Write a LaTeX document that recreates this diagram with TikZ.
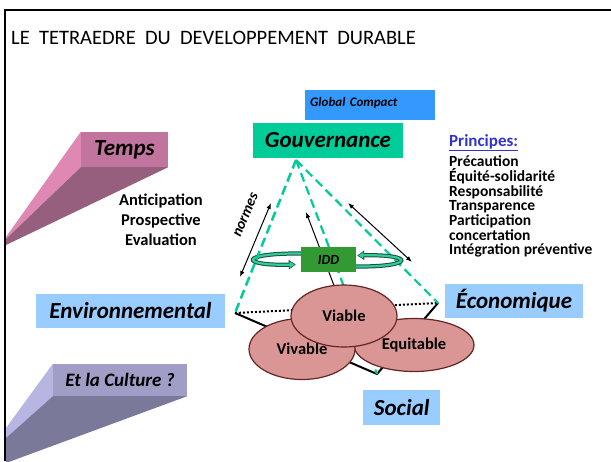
\documentclass[tikz,border=0pt]{standalone}
\usepackage{fontspec}
\setmainfont{Carlito}
\usetikzlibrary{shapes.geometric,arrows.meta,calc}
\definecolor{dimblue}{RGB}{153,204,255}
\definecolor{gcblue}{RGB}{51,153,255}
\definecolor{govgreen}{RGB}{0,204,153}
\definecolor{iddgreen}{RGB}{51,153,51}
\definecolor{ovalfill}{RGB}{217,150,148}
\definecolor{ovaledge}{RGB}{99,37,35}
\definecolor{princblue}{RGB}{51,51,204}
\definecolor{loopfill}{RGB}{51,204,153}
\definecolor{loopedge}{RGB}{25,80,65}
\definecolor{tempsfront}{RGB}{193,117,158}
\definecolor{tempslight}{RGB}{223,136,179}
\definecolor{tempsdark}{RGB}{151,95,126}
\definecolor{culfront}{RGB}{160,157,198}
\definecolor{cullight}{RGB}{183,182,226}
\definecolor{culdark}{RGB}{122,121,153}

\begin{document}
\begin{tikzpicture}[x=1pt,y=1pt,yscale=-1,
    dimbox/.style={fill=dimblue,inner sep=0pt,minimum height=34,minimum width=#1,
      font=\fontsize{23}{27}\selectfont\bfseries\itshape},
    oval/.style={ellipse,draw=ovaledge,fill=ovalfill,line width=1.2,inner sep=0pt,
      font=\fontsize{16.5}{19}\selectfont\bfseries},
    govline/.style={color=govgreen,line width=2.2,dash pattern=on 9pt off 5pt},
    link/.style={line width=1,{Latex[length=6pt,width=4.5pt]}-{Latex[length=6pt,width=4.5pt]}},
    loopout/.style={line width=4.2,color=loopedge,-{Triangle[length=7pt,width=9pt]}},
    loopin/.style={line width=2.2,color=loopfill,shorten >=1.2pt,-{Triangle[length=5pt,width=6.4pt]}},
  ]
  \useasboundingbox (0,0) rectangle (611,461);

  % title
  \node[anchor=west,inner sep=0pt,font=\fontsize{20.5}{24}\selectfont] (title) at (11,37.5)
    {LE\ \ TETRAEDRE\ \ DU\ \ DEVELOPPEMENT\ \ DURABLE};

  % Temps block
  \node[fill=tempsfront,minimum width=87,minimum height=35,inner sep=0pt,
    font=\fontsize{23}{27}\selectfont\bfseries\itshape] (temps) at (124.5,149.5) {Temps};
  \fill[tempslight] (temps.north west) -- (6,237) -- (6,239) -- (temps.south west) -- cycle;
  \fill[tempsdark] (temps.south west) -- (temps.south east) -- (6,245) -- (6,239) -- cycle;
  \node[align=center,anchor=north,inner sep=0pt,font=\fontsize{16.5}{20}\selectfont\bfseries] (tempstext) at (161,193.5)
    {Anticipation\\Prospective\\Evaluation};

  % Et la Culture block
  \node[fill=culfront,minimum width=134,minimum height=32,inner sep=0pt,
    font=\fontsize{19}{23}\selectfont\bfseries\itshape] (culture) at (120,380) {Et la Culture ?};
  \fill[cullight] (culture.north west) -- (6,428) -- (6,438) -- (culture.south west) -- cycle;
  \fill[culdark] (culture.south west) -- (culture.south east) -- (6,463) -- (6,438) -- cycle;

  % frame
  \draw[line width=2] (5,461) -- (5,10) -- (611,10);

  % Global Compact
  \node[fill=gcblue,anchor=north west,inner xsep=5,inner ysep=0pt,text width=120,align=left,
    text height=16,text depth=14,font=\fontsize{13}{15}\selectfont\bfseries\itshape] (gc) at (305,90) {Global Compact};

  % tetrahedron
  \coordinate (top) at (296,160);
  \coordinate (env) at (235,313);
  \coordinate (eco) at (438,303);
  \coordinate (soc) at (377,374);
  \draw[line width=2,dash pattern=on 2pt off 2pt] (env) -- (eco);
  \draw[line width=2] (env) -- (soc) -- (eco);
  \draw[govline] (top) -- (env) (top) -- (soc) (top) -- (eco);

  % arrows
  \coordinate (n1) at (240,277);
  \coordinate (n2) at (271,203);
  \draw[link] (n1) -- (n2);
  \node[rotate=67,inner sep=0pt,font=\fontsize{15}{18}\selectfont\bfseries\itshape] (normes) at (246,215) {normes};
  \coordinate (m1) at (338,296);
  \coordinate (m2) at (306,212);
  \draw[line width=1,-{Latex[length=6pt,width=4.5pt]}] (m1) -- (m2);
  \coordinate (r1) at (348,203);
  \coordinate (r2) at (412,262);
  \draw[link] (r1) -- (r2);

  % IDD
  \node[fill=iddgreen,minimum width=55,minimum height=25,inner sep=0pt,
    font=\fontsize{14}{16}\selectfont\bfseries\itshape] (idd) at (328.5,259.5) {IDD};
  \draw[loopout] ($(idd.west)+(0,-6)$) .. controls (238,253) and (240,266) .. ($(idd.west)+(-5,5)$);
  \draw[loopin] ($(idd.west)+(0,-6)$) .. controls (238,253) and (240,266) .. ($(idd.west)+(-5,5)$);
  \draw[loopout] ($(idd.east)+(0,7)$) .. controls (416,267) and (414,254) .. ($(idd.east)+(1,-4)$);
  \draw[loopin] ($(idd.east)+(0,7)$) .. controls (416,267) and (414,254) .. ($(idd.east)+(1,-4)$);
  \draw[govline] (top) -- (env);

  % ovals
  \node[oval,minimum width=120,minimum height=53] (equitable) at (414,345) {Equitable};
  \node[oval,minimum width=106,minimum height=61] (vivable) at (302,349) {Vivable};
  \node[oval,minimum width=106,minimum height=62] (viable) at (344,316) {Viable};

  % pillars
  \node[fill=govgreen,inner sep=0pt,minimum width=150,minimum height=35,
    font=\fontsize{23}{27}\selectfont\bfseries\itshape] (gouv) at (328,140.5) {Gouvernance};
  \node[dimbox=189] (envir) at (130.5,310.5) {Environnemental};
  \node[dimbox=138] (econ) at (514,300.5) {Économique};
  \node[dimbox=77,minimum height=35] (social) at (401.7,407.5) {Social};

  % principes
  \node[anchor=base west,inner sep=0pt,text=princblue,font=\fontsize{17}{19}\selectfont\bfseries] (princ) at (449,146)
    {\underline{Principes:}};
  \node[anchor=north west,align=left,inner sep=0pt,font=\fontsize{15.5}{14.7}\selectfont\bfseries] (princlist) at (449,155.5)
    {Précaution\\Équité-solidarité\\Responsabilité\\Transparence\\Participation\\concertation\\Intégration préventive};
\end{tikzpicture}
\end{document}
